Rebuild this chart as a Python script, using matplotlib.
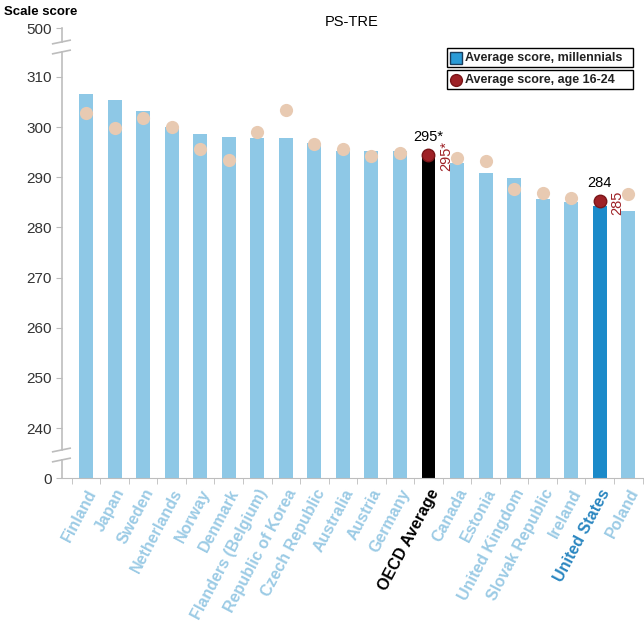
import numpy as np
import matplotlib
matplotlib.use("Agg")
import matplotlib.pyplot as plt
from matplotlib.patches import Rectangle
from matplotlib.lines import Line2D

plt.rcParams["font.family"] = ["Liberation Sans", "DejaVu Sans"]

# ---- data ----
countries = ["Finland", "Japan", "Sweden", "Netherlands", "Norway", "Denmark",
             "Flanders (Belgium)", "Republic of Korea", "Czech Republic", "Australia",
             "Austria", "Germany", "OECD Average", "Canada", "Estonia",
             "United Kingdom", "Slovak Republic", "Ireland", "United States", "Poland"]
millennials = [306.6, 305.4, 303.2, 300.1, 298.6, 298.0, 297.8, 297.8, 296.8, 295.3,
               295.3, 295.3, 294.8, 292.8, 290.9, 289.8, 285.6, 285.1, 284.3, 283.2]
age_16_24 = [302.9, 299.8, 301.9, 300.0, 295.6, 293.5, 299.0, 303.5, 296.6, 295.6,
             294.2, 294.8, 294.5, 293.9, 293.2, 287.7, 286.8, 285.8, 285.3, 286.7]
yticks = [0, 240, 250, 260, 270, 280, 290, 300, 310, 500]
highlight = {"OECD Average": ("295*", "295*"), "United States": ("284", "285")}

LIGHT = "#8ec8e6"
US_BLUE = "#1b8ac9"
BEIGE = "#e8cab2"
RED = "#9e2126"
AXIS = "#bdbdbd"


# broken y axis: 0..240 squeezed, 240..310 stretched, 310..500 squeezed
def fwd(v):
    v = np.asarray(v, dtype=float)
    return np.where(v <= 240, v * 50 / 240,
                    np.where(v <= 310, 50 + (v - 240) * 351 / 70,
                             401 + (v - 310) * 49 / 190))


def inv(u):
    u = np.asarray(u, dtype=float)
    return np.where(u <= 50, u * 240 / 50,
                    np.where(u <= 401, 240 + (u - 50) * 70 / 351,
                             310 + (u - 401) * 190 / 49))


fig = plt.figure(figsize=(6.44, 6.32), dpi=100)
ax = fig.add_axes([62 / 644, 1 - 478 / 632, 1 - 62 / 644, 450 / 632])
ax.set_yscale("function", functions=(fwd, inv))
ax.set_ylim(0, 500)
ax.set_xlim(-0.84, 19.55)

x = np.arange(len(countries))
bar_cols, lab_cols = [], []
for c in countries:
    if c == "OECD Average":
        bar_cols.append("black"); lab_cols.append("black")
    elif c == "United States":
        bar_cols.append(US_BLUE); lab_cols.append("#2a86c0")
    else:
        bar_cols.append(LIGHT); lab_cols.append("#9ccbe5")

ax.bar(x, millennials, width=0.49, color=bar_cols, zorder=2)

for i, c in enumerate(countries):
    if c in highlight:
        ax.plot(x[i], age_16_24[i], "o", ms=9, color=RED, mec="#7a1518", zorder=4)
        top, side = highlight[c]
        ax.annotate(top, (x[i], age_16_24[i]), xytext=(0, 8), textcoords="offset points",
                    ha="center", va="bottom", fontsize=10.5, color="black")
        ax.annotate(side, (x[i] + 0.36, age_16_24[i] - 0.3), rotation=90, ha="left",
                    va="center", fontsize=10.5, color=RED)
    else:
        ax.plot(x[i], age_16_24[i], "o", ms=9.5, color=BEIGE, mec="none", zorder=3)

# axes styling
for s in ["top", "right", "left"]:
    ax.spines[s].set_visible(False)
ax.spines["bottom"].set_color(AXIS)
ax.set_yticks(yticks)
ax.set_yticklabels([str(t) for t in yticks])
ax.yaxis.set_minor_locator(matplotlib.ticker.NullLocator())
ax.tick_params(axis="y", colors=AXIS, labelcolor="#333333", labelsize=11, length=4)

ax.set_xticks(x)
ax.set_xticklabels(countries, rotation=62, ha="right", rotation_mode="anchor",
                   fontsize=11.5, fontweight="bold")
for lab, col in zip(ax.get_xticklabels(), lab_cols):
    lab.set_color(col)
ax.tick_params(axis="x", length=0, pad=6)
ax.set_xticks(np.arange(len(countries) + 1) - 0.5, minor=True)
ax.tick_params(axis="x", which="minor", length=4, color=AXIS)

# left axis line with two breaks
tr = ax.transAxes
for y0, y1 in [(0, 18 / 450), (28 / 450, 426 / 450), (436 / 450, 1)]:
    ax.add_line(Line2D([0, 0], [y0, y1], transform=tr, color=AXIS, lw=1.2, clip_on=False))
for yb in [18 / 450, 28 / 450, 426 / 450, 436 / 450]:
    ax.add_line(Line2D([-0.016, 0.014], [yb - 0.004, yb + 0.004], transform=tr,
                       color=AXIS, lw=1.2, clip_on=False))

fig.text(4 / 644, 1 - 12 / 632, "Scale score", fontsize=9.5, fontweight="bold",
         va="center", ha="left")
fig.text(352 / 644, 1 - 22 / 632, "PS-TRE", fontsize=10.5, va="center", ha="center")

# legend boxes
W, H = 644, 632
for (top, bot), label, kind in [((48, 67), "Average score, millennials", "s"),
                                 ((70, 89), "Average score, age 16-24", "o")]:
    fig.add_artist(Rectangle((447 / W, 1 - bot / H), (633 - 447) / W, (bot - top) / H,
                             transform=fig.transFigure, fill=False, ec="black", lw=1))
    cy = 1 - (top + bot) / 2 / H
    if kind == "s":
        fig.add_artist(Line2D([456 / W], [cy], marker="s", ms=8, color="#2a9bd7",
                              mec="#1a3d5c", transform=fig.transFigure))
    else:
        fig.add_artist(Line2D([456 / W], [cy], marker="o", ms=8.5, color=RED,
                              mec="#7a1518", transform=fig.transFigure))
    fig.text(465 / W, cy, label, fontsize=9, fontweight="bold", color="#222222",
             va="center", ha="left")

fig.savefig("out.png", dpi=100)
